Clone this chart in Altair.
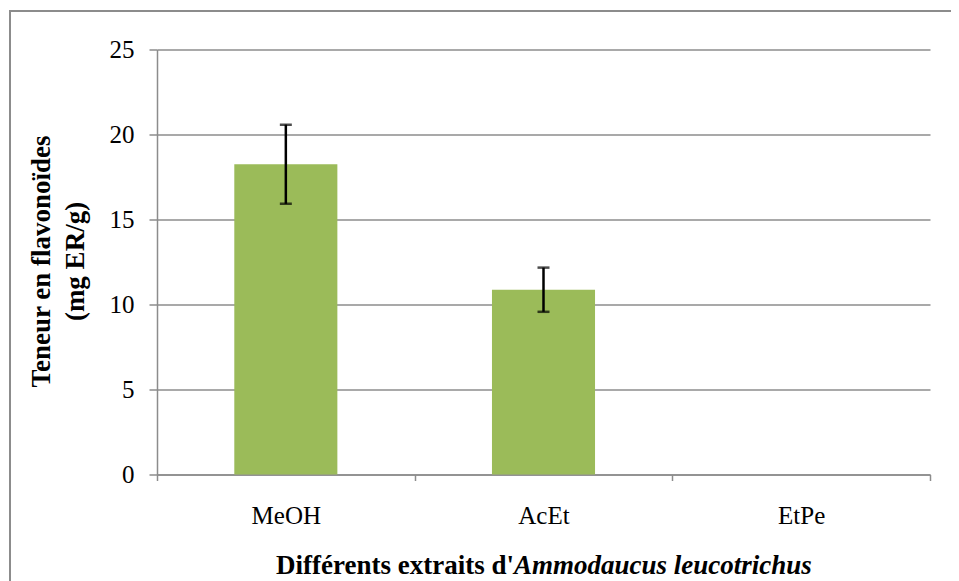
import altair as alt
import pandas as pd

categories = ["MeOH", "AcEt", "EtPe"]
values = [18.25, 10.87, 0.0]
errors = [2.33, 1.30, None]

df = pd.DataFrame({"cat": categories, "val": values, "err": errors})
df["lo"] = df["val"] - df["err"]
df["hi"] = df["val"] + df["err"]

W, H = 773, 425
FONT = "Times New Roman, Liberation Serif, serif"
GRAY = "#8c8c8c"
YSCALE = alt.Scale(domain=[0, 25], nice=False, zero=True)
XSORT = categories
LBL = 25
TTL = 27

x_enc = alt.X("cat:N", sort=XSORT,
              scale=alt.Scale(paddingInner=0, paddingOuter=0),
              axis=alt.Axis(title=None, labelAngle=0, labelFont=FONT, labelFontSize=LBL,
                            labelColor="black", labelPadding=23, tickBand="extent",
                            tickSize=6, tickColor=GRAY, domainColor=GRAY, domainWidth=1.5,
                            tickWidth=1.5))

bars = alt.Chart(df).mark_bar(color="#9BBB59", width=alt.RelativeBandSize(0.4)).encode(
    x=x_enc,
    y=alt.Y("val:Q", scale=YSCALE,
            axis=alt.Axis(title=None, values=[0, 5, 10, 15, 20, 25], labelFont=FONT,
                          labelFontSize=LBL, labelColor="black", labelPadding=15,
                          tickSize=8, tickColor=GRAY, domainColor=GRAY, gridColor=GRAY,
                          gridWidth=1.5, domainWidth=1.5, tickWidth=1.5)),
)

err_base = alt.Chart(df).transform_filter("isValid(datum.err)")
rule = err_base.mark_rule(color="black", strokeWidth=2.5).encode(
    x=alt.X("cat:N", sort=XSORT), y=alt.Y("lo:Q", scale=YSCALE), y2="hi:Q")
cap_hi = err_base.mark_tick(color="black", thickness=2.5, size=12).encode(
    x=alt.X("cat:N", sort=XSORT), y=alt.Y("hi:Q", scale=YSCALE))
cap_lo = err_base.mark_tick(color="black", thickness=2.5, size=12).encode(
    x=alt.X("cat:N", sort=XSORT), y=alt.Y("lo:Q", scale=YSCALE))

title_df = pd.DataFrame({"a": ["Différents extraits d'"], "b": ["Ammodaucus leucotrichus"],
                         "y1": ["Teneur en flavonoïdes"], "y2": ["(mg ER/g)"]})
tbase = alt.Chart(title_df)
xt1 = tbase.mark_text(font=FONT, fontSize=TTL, fontWeight="bold", align="right",
                      baseline="middle", color="black").encode(
    text="a:N", x=alt.value(357), y=alt.value(516))
xt2 = tbase.mark_text(font=FONT, fontSize=TTL, fontWeight="bold", fontStyle="italic",
                      align="left", baseline="middle", color="black").encode(
    text="b:N", x=alt.value(357), y=alt.value(516))
yt1 = tbase.mark_text(font=FONT, fontSize=TTL, fontWeight="bold", angle=270,
                      align="center", baseline="middle", color="black").encode(
    text="y1:N", x=alt.value(-115), y=alt.value(212))
yt2 = tbase.mark_text(font=FONT, fontSize=TTL, fontWeight="bold", angle=270,
                      align="center", baseline="middle", color="black").encode(
    text="y2:N", x=alt.value(-81), y=alt.value(212))

frame = tbase.mark_rect(fill=None, stroke=GRAY, strokeWidth=2).encode(
    x=alt.value(-147), x2=alt.value(900), y=alt.value(-38.5), y2=alt.value(600))

chart = alt.layer(frame, bars, rule, cap_hi, cap_lo, xt1, xt2, yt1, yt2).properties(
    width=W, height=H,
    autosize=alt.AutoSizeParams(type="none"),
    padding={"left": 149, "top": 41.5, "right": 21, "bottom": 106},
).configure_view(stroke=None)

chart.save("out.html", embed_options={"renderer": "svg", "actions": False})
